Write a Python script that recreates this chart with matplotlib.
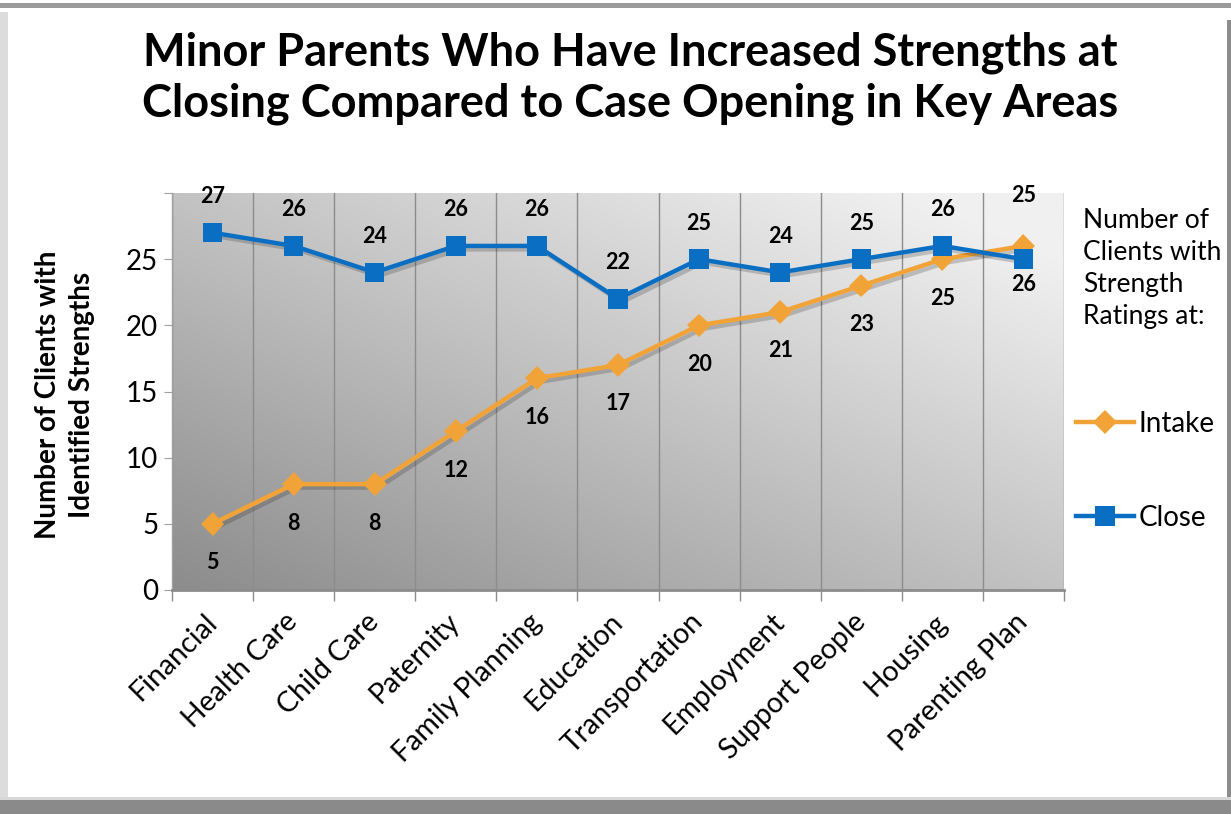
import matplotlib
matplotlib.use('Agg')
import matplotlib.pyplot as plt
import numpy as np
from matplotlib.lines import Line2D
from matplotlib.patches import Rectangle
import matplotlib.patheffects as pe

categories = ["Financial", "Health Care", "Child Care", "Paternity", "Family Planning",
              "Education", "Transportation", "Employment", "Support People", "Housing",
              "Parenting Plan"]
intake = [5, 8, 8, 12, 16, 17, 20, 21, 23, 25, 26]
close = [27, 26, 24, 26, 26, 22, 25, 24, 25, 26, 25]
y_ticks = [0, 5, 10, 15, 20, 25]

ORANGE = '#F2A337'
BLUE = '#0A6FC2'

plt.rcParams['font.family'] = ['Lato', 'DejaVu Sans']

W, H = 1231, 814
fig = plt.figure(figsize=(W / 100, H / 100), dpi=100)
fig.patch.set_facecolor('white')

def fx(px):
    return px / W

def fy(py):
    return 1 - py / H

# frame decorations
fig.patches.append(Rectangle((0, fy(8)), 1, fy(3) - fy(8), transform=fig.transFigure,
                             facecolor='#9a9a9a', edgecolor='none', zorder=0))
fig.patches.append(Rectangle((0, fy(800)), fx(8), fy(12) - fy(800), transform=fig.transFigure,
                             facecolor='#dcdcdc', edgecolor='none', zorder=0))
fig.patches.append(Rectangle((fx(1227), fy(800)), fx(4), fy(20) - fy(800), transform=fig.transFigure,
                             facecolor='#8c8c8c', edgecolor='none', zorder=0))
fig.patches.append(Rectangle((0, 0), 1, fy(800), transform=fig.transFigure,
                             facecolor='#8a8a8a', edgecolor='none', zorder=0))
fig.patches.append(Rectangle((0, fy(800)), 1, fy(797) - fy(800), transform=fig.transFigure,
                             facecolor='#d8d8d8', edgecolor='none', zorder=0))

ax = fig.add_axes([fx(172), fy(590), fx(1064) - fx(172), fy(193) - fy(590)])

# gradient background
n = 200
xx, yy = np.meshgrid(np.linspace(0, 1, n), np.linspace(0, 1, n))
v = np.clip(140 + 55 * xx + 55 * yy, 0, 240) / 255.0
ax.imshow(np.dstack([v, v, v]), extent=[0, 1, 0, 1], transform=ax.transAxes,
          aspect='auto', origin='lower', zorder=0, interpolation='bilinear')

x = np.arange(len(categories))
ax.set_xlim(-0.5, len(categories) - 0.5)
ax.set_ylim(0, 30)

# vertical gridlines at category boundaries
for b in np.arange(-0.5, len(categories), 1.0):
    ax.axvline(b, color='#8c8c8c', lw=1.0, zorder=1)

shadow = [pe.SimpleLineShadow(offset=(2.5, -2.5), alpha=0.22, shadow_color='#222222'), pe.Normal()]
ax.plot(x, intake, color=ORANGE, lw=3.2, marker='D', ms=12, markeredgewidth=0,
        zorder=3, label='Intake', path_effects=shadow)
ax.plot(x, close, color=BLUE, lw=3.2, marker='s', ms=14, markeredgewidth=0,
        zorder=4, label='Close', path_effects=shadow)

for xi, c, i in zip(x, close, intake):
    base = max(c, i)
    off = 26 if c >= i else 36
    ax.annotate(str(c), (xi, base), xytext=(0, off), textcoords='offset points',
                ha='center', va='center', fontsize=15.5, fontweight='bold', color='black', zorder=5)
    ax.annotate(str(i), (xi, i), xytext=(0, -28), textcoords='offset points',
                ha='center', va='center', fontsize=15.5, fontweight='bold', color='black', zorder=5)

for s in ['top', 'right']:
    ax.spines[s].set_visible(False)
ax.spines['left'].set_color('#a0a0a0')
ax.spines['bottom'].set_color('#8c8c8c')
ax.spines['bottom'].set_linewidth(2)
ax.spines['left'].set_linewidth(1)

ax.set_yticks(list(range(0, 31, 5)))
ax.set_yticklabels([str(t) for t in y_ticks] + [''])
ax.tick_params(axis='y', labelsize=20, length=6, color='#a0a0a0', pad=4)
ax.set_xticks(x)
ax.set_xticklabels(categories, rotation=45, ha='right', va='center', rotation_mode='anchor')
ax.tick_params(axis='x', which='major', length=0, labelsize=20.5, pad=20)
ax.set_xticks(np.arange(-0.5, len(categories), 1.0), minor=True)
ax.tick_params(axis='x', which='minor', length=8, color='#8c8c8c', width=1)

fig.text(fx(630), fy(78), "Minor Parents Who Have Increased Strengths at\nClosing Compared to Case Opening in Key Areas",
         ha='center', va='center', fontsize=32.5, fontweight='bold', linespacing=1.25)

fig.text(fx(65), fy(395), "Number of Clients with\nIdentified Strengths", rotation=90,
         ha='center', va='center', fontsize=20, fontweight='bold', linespacing=1.35)

fig.text(fx(1083), fy(208), "Number of\nClients with\nStrength\nRatings at:", ha='left', va='top',
         fontsize=19, linespacing=1.35)

handles = [Line2D([], [], color=ORANGE, lw=3.2, marker='D', ms=12, markeredgewidth=0),
           Line2D([], [], color=BLUE, lw=3.2, marker='s', ms=14, markeredgewidth=0)]
ax.legend(handles, ['Intake', 'Close'], loc='upper left', bbox_to_anchor=(fx(1076), fy(411)),
          bbox_transform=fig.transFigure, frameon=False, fontsize=20, handlelength=2.1,
          handletextpad=0.15, labelspacing=2.45, borderpad=0, borderaxespad=0)

fig.savefig('out.png', dpi=100)
